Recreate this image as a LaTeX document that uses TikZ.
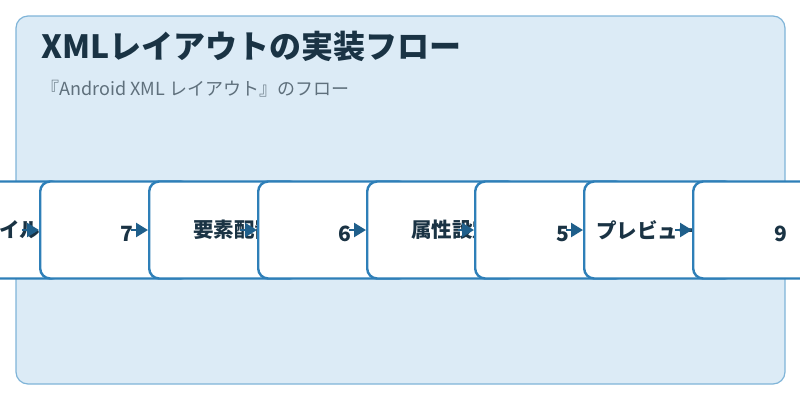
\documentclass[tikz,border=0pt]{standalone}
\usepackage{fontspec}
\setmainfont{Noto Sans CJK JP}
\usetikzlibrary{arrows.meta, positioning}
\definecolor{panel}{HTML}{DCEBF6}
\definecolor{panelline}{HTML}{7FB4D8}
\definecolor{boxline}{HTML}{2E7FB8}
\definecolor{ink}{HTML}{1A3344}
\definecolor{arrowc}{HTML}{1F5F8B}

\begin{document}
\begin{tikzpicture}[
x=1pt, y=-1pt,
>={Triangle[length=12pt,width=14pt]},
stepbox/.style={draw=boxline, line width=2.4pt, fill=white, rounded corners=10pt,
  minimum width=150pt, minimum height=97pt, anchor=west, inner sep=0pt},
lbl/.style={font=\fontsize{20.5}{24}\selectfont\bfseries, text=ink, anchor=west, inner sep=0pt},
num/.style={font=\fontsize{21}{24}\selectfont\bfseries, text=ink, inner sep=0pt},
flow/.style={->, arrowc, line width=2.4pt},
]
\useasboundingbox (0,0) rectangle (800,400);
\clip (0,0) rectangle (800,400);
% panel
\draw[panelline, fill=panel, line width=1.2pt, rounded corners=12pt] (16,16) rectangle (785,384);
\node[anchor=west, text=ink, font=\fontsize{32}{36}\selectfont\bfseries] (title) at (38,46) {XMLレイアウトの実装フロー};
\node[anchor=west, text=ink!70, font=\fontsize{18}{21}\selectfont] (sub) at (38,89) {『Android XML レイアウト』のフロー};

% steps
\node[stepbox] (b0) at (-90,230) {};
\node[lbl] (t0) at (-42,230) {ファイル};
\node[stepbox] (b1) at (39,230) {};
\node[num] (t1) at (127,234) {7};
\node[stepbox] (b2) at (148,230) {};
\node[lbl] (t2) at (193,230) {要素配置};
\node[stepbox] (b3) at (257,230) {};
\node[num] (t3) at (345,234) {6};
\node[stepbox] (b4) at (366,230) {};
\node[lbl] (t4) at (411,230) {属性設定};
\node[stepbox] (b5) at (474,230) {};
\node[num] (t5) at (563,234) {5};
\node[stepbox] (b6) at (583,230) {};
\node[lbl] (t6) at (596,230) {プレビュー};
\node[stepbox] (b7) at (692,230) {};
\node[num] (t7) at (781,234) {9};

% arrows
\coordinate (a0) at (22,230);
\coordinate (a1) at (131,230);
\coordinate (a2) at (240,230);
\coordinate (a3) at (349,230);
\coordinate (a4) at (458,230);
\coordinate (a5) at (566,230);
\coordinate (a6) at (675,230);
\draw[flow] (a0) -- (b1.west);
\draw[flow] (a1) -- (b2.west);
\draw[flow] (a2) -- (b3.west);
\draw[flow] (a3) -- (b4.west);
\draw[flow] (a4) -- (b5.west);
\draw[flow] (a5) -- (b6.west);
\draw[flow] (a6) -- (b7.west);
\end{tikzpicture}
\end{document}
